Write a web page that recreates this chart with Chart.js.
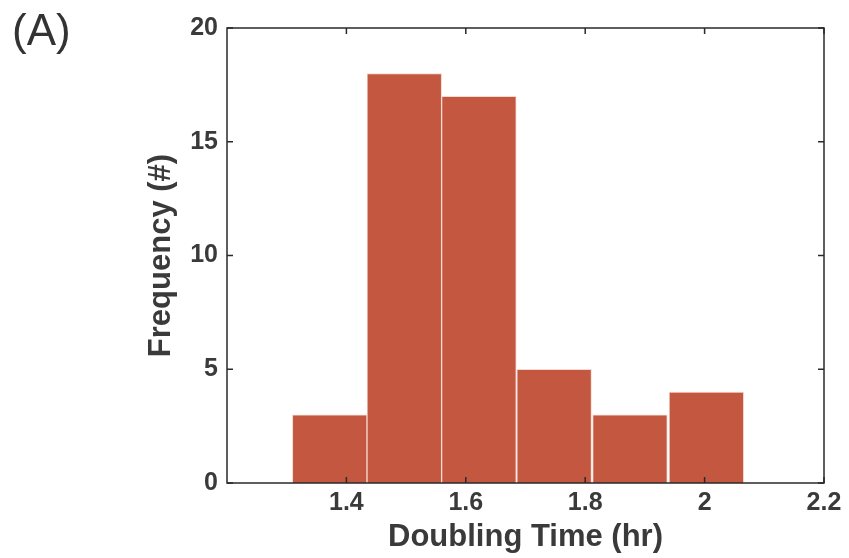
<!DOCTYPE html>
<html>
<head>
<meta charset="utf-8">
<script src="https://cdn.jsdelivr.net/npm/chart.js@4/dist/chart.umd.min.js"></script>
<style>
  html, body { margin: 0; padding: 0; background: #fff; }
  #wrap { position: relative; width: 849px; height: 558px; }
  #lbl { position: absolute; left: 12px; top: 5px; font: 44px "Liberation Sans", Arial, sans-serif; color: #333; }
</style>
</head>
<body>
<div id="wrap">
  <canvas id="c" width="849" height="558"></canvas>
  <div id="lbl">(A)</div>
</div>
<script>
// Histogram bin centres (hr) and counts
const binCenters = [1.372, 1.497, 1.622, 1.748, 1.875, 2.003];
const counts = [3, 18, 17, 5, 3, 4];
const xTicks = [1.4, 1.6, 1.8, 2.0, 2.2];
const yTicks = [0, 5, 10, 15, 20];

const textColor = '#3a3a3a';
const axisColor = '#2a2a2a';
const fontFam = '"Liberation Sans", Arial, sans-serif';

const boxTicks = {
  id: 'boxTicks',
  afterDraw(chart) {
    const ctx = chart.ctx;
    const a = chart.chartArea;
    const xs = chart.scales.x, ys = chart.scales.y;
    ctx.save();
    ctx.strokeStyle = axisColor;
    ctx.lineWidth = 1.5;
    ctx.strokeRect(a.left, a.top, a.right - a.left, a.bottom - a.top);
    const L = 6;
    ctx.beginPath();
    xTicks.forEach(v => {
      const p = xs.getPixelForValue(v);
      ctx.moveTo(p, a.bottom); ctx.lineTo(p, a.bottom - L);
      ctx.moveTo(p, a.top); ctx.lineTo(p, a.top + L);
    });
    yTicks.forEach(v => {
      const p = ys.getPixelForValue(v);
      ctx.moveTo(a.left, p); ctx.lineTo(a.left + L, p);
      ctx.moveTo(a.right, p); ctx.lineTo(a.right - L, p);
    });
    ctx.stroke();
    ctx.restore();
  }
};

new Chart(document.getElementById('c'), {
  type: 'bar',
  data: {
    datasets: [{
      data: binCenters.map((x, i) => ({ x: x, y: counts[i] })),
      backgroundColor: '#c4573f',
      borderColor: '#f4d9d0',
      borderWidth: 1,
      barPercentage: 1,
      categoryPercentage: 1
    }]
  },
  options: {
    responsive: false,
    animation: false,
    layout: { padding: { top: 28, right: 25, left: 143, bottom: 0 } },
    plugins: { legend: { display: false }, tooltip: { enabled: false } },
    scales: {
      x: {
        type: 'linear',
        min: 1.2, max: 2.2,
        offset: false,
        grid: { display: false, drawTicks: false },
        border: { display: false },
        afterBuildTicks(s) { s.ticks = xTicks.map(v => ({ value: v })); },
        afterFit(s) { s.height = 75; },
        ticks: {
          color: textColor, padding: 5,
          font: { family: fontFam, size: 25, weight: 'bold' },
          callback: v => String(Math.round(v * 10) / 10)
        },
        title: {
          display: true, text: 'Doubling Time (hr)', color: textColor,
          font: { family: fontFam, size: 31, weight: 'bold' }, padding: { top: 0, bottom: 2 }
        }
      },
      y: {
        min: 0, max: 20,
        grid: { display: false, drawTicks: false },
        border: { display: false },
        afterBuildTicks(s) { s.ticks = yTicks.map(v => ({ value: v })); },
        afterFit(s) { s.width = 227 - 143; },
        ticks: {
          color: textColor, padding: 9,
          font: { family: fontFam, size: 25, weight: 'bold' }
        },
        title: {
          display: true, text: 'Frequency (#)', color: textColor,
          font: { family: fontFam, size: 31, weight: 'bold' }, padding: { top: 0, bottom: 0 }
        }
      }
    }
  },
  plugins: [boxTicks]
});
</script>
</body>
</html>
